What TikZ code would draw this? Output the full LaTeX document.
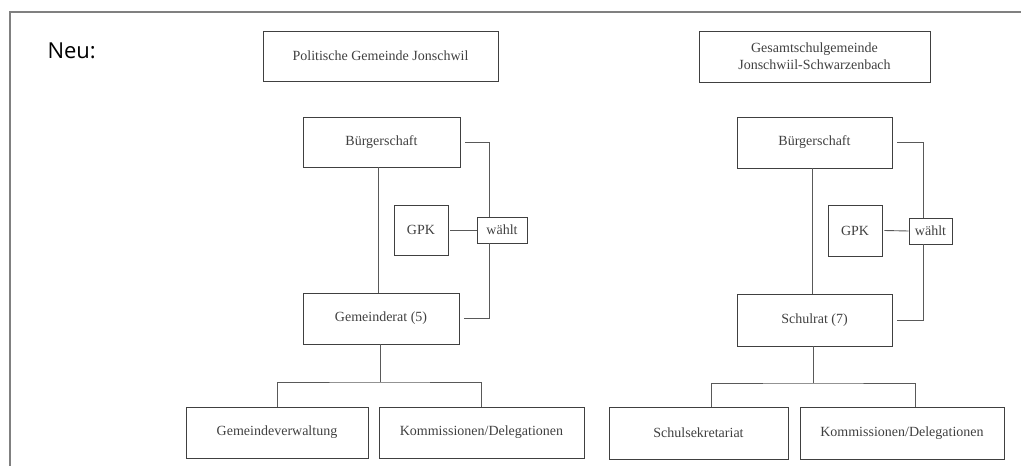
\documentclass[tikz,border=0pt]{standalone}
\usepackage{fontspec}
\setmainfont{Liberation Serif}
\newfontfamily\neufont{Open Sans}

\begin{document}
\begin{tikzpicture}[x=1pt,y=-1pt,
	orgbox/.style={draw=black!75,line width=0.9pt,inner sep=0pt,text=black!75,font=\fontsize{14}{18}\selectfont,align=center},
	link/.style={draw=black!65,line width=0.9pt}]
	\useasboundingbox (0,0) rectangle (1021,466);
	\draw[gray,line width=2pt] (1021,12) -- (10,12) -- (10,466);
	\node[anchor=base west,font=\neufont\fontsize{22}{24}\selectfont] (neu) at (44,58) {Neu:};
	% Politische Gemeinde
	\node[orgbox,minimum width=235pt,minimum height=50pt] (pg) at (380.5,56) {Politische Gemeinde Jonschwil};
	\node[orgbox,minimum width=157pt,minimum height=50pt] (buerg1) at (381.5,142) {Bürgerschaft};
	\node[orgbox,minimum width=54pt,minimum height=50pt] (gpk1) at (421,230) {GPK};
	\node[orgbox,minimum width=50pt,minimum height=26pt] (waehlt1) at (502,230) {wählt};
	\node[orgbox,minimum width=156pt,minimum height=51pt] (rat1) at (381,318.5) {Gemeinderat (5)};
	\node[orgbox,minimum width=182pt,minimum height=51pt] (verw1) at (277,432.5) {Gemeindeverwaltung};
	\node[orgbox,minimum width=205pt,minimum height=51pt] (komm1) at (481.5,432.5) {Kommissionen/Delegationen};
	\coordinate (bar1) at (380,382);
	\draw[link] ([xshift=-3.5pt]buerg1.south) -- ([xshift=-3.5pt]buerg1.south |- rat1.north);
	\draw[link] ([xshift=5pt]buerg1.east) -| ([xshift=-13pt]waehlt1.north);
	\draw[link] ([xshift=-13pt]waehlt1.south) |- ([xshift=5pt]rat1.east);
	\draw[link] ([xshift=2pt]gpk1.east) -- (waehlt1.west);
	\draw[link] (rat1.south -| bar1) -- (bar1);
	\draw[link] (verw1.north) |- (bar1) -| (komm1.north);
	% Gesamtschulgemeinde
	\node[orgbox,font=\fontsize{14}{17}\selectfont,minimum width=231pt,minimum height=51pt] (gs) at (814.5,56.5) {Gesamtschulgemeinde\\Jonschwiil-Schwarzenbach};
	\node[orgbox,minimum width=155pt,minimum height=51pt] (buerg2) at (814.5,142.5) {Bürgerschaft};
	\node[orgbox,minimum width=54pt,minimum height=51pt] (gpk2) at (855,230.5) {GPK};
	\node[orgbox,minimum width=43pt,minimum height=26pt] (waehlt2) at (930.5,231) {wählt};
	\node[orgbox,minimum width=155pt,minimum height=52pt] (rat2) at (814.5,320) {Schulrat (7)};
	\node[orgbox,minimum width=179pt,minimum height=52pt] (sek) at (698.5,433) {Schulsekretariat};
	\node[orgbox,minimum width=204pt,minimum height=52pt] (komm2) at (902,433) {Kommissionen/Delegationen};
	\coordinate (bar2) at (813,383);
	\draw[link] ([xshift=-2.5pt]buerg2.south) -- ([xshift=-2.5pt]buerg2.south |- rat2.north);
	\draw[link] ([xshift=5pt]buerg2.east) -| ([xshift=-7.5pt]waehlt2.north);
	\draw[link] ([xshift=-7.5pt]waehlt2.south) |- ([xshift=5pt]rat2.east);
	\draw[link] ([xshift=2pt]gpk2.east) -- (waehlt2.west);
	\draw[link] (rat2.south -| bar2) -- (bar2);
	\draw[link] ([xshift=13pt]sek.north) |- (bar2) -| ([xshift=13pt]komm2.north);
\end{tikzpicture}
\end{document}
